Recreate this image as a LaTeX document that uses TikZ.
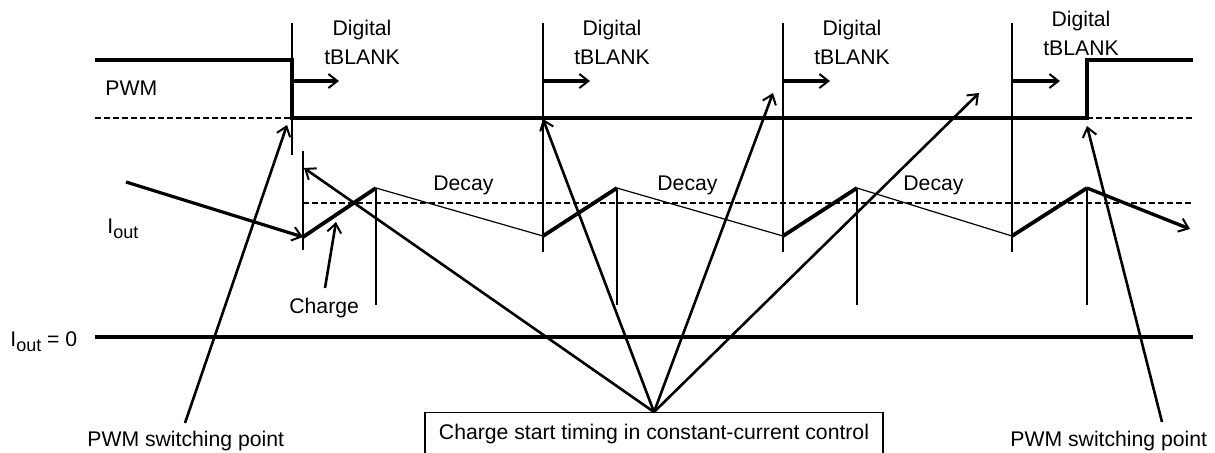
\documentclass[tikz,border=0pt]{standalone}
\usepackage{fontspec}
\setmainfont{Liberation Sans}
\usetikzlibrary{arrows.meta}
\def\Iout{I\raisebox{-2.5pt}{\fontsize{9}{9}\selectfont out}}
\tikzset{
	wave/.style={line width=1.7pt},
	edge/.style={line width=1.4pt},
	hair/.style={line width=0.6pt},
	level/.style={line width=0.7pt, dash pattern=on 2.8pt off 1.7pt},
	blankarrow/.style={line width=1.8pt, -{Straight Barb[length=4.5pt,width=7pt,line width=1pt]}},
	pointer/.style={line width=1.3pt, -{Straight Barb[length=4.5pt,width=7pt,line width=1pt]}},
	lbl/.style={inner sep=0pt, anchor=base west},
}

\begin{document}
\begin{tikzpicture}[x=0.5pt,y=-0.5pt,font=\fontsize{10.6}{14.5}\selectfont]
				\useasboundingbox (0,0) rectangle (1215,452);
				
				\coordinate (s1) at (303,237);
				\coordinate (p1) at (376,188);
				\coordinate (s2) at (543,236);
				\coordinate (p2) at (617,188);
				\coordinate (s3) at (783,236);
				\coordinate (p3) at (857,188);
				\coordinate (s4) at (1012,236);
				\coordinate (p4) at (1087,188);
				\coordinate (iend) at (1190,229);
				\coordinate (istart) at (126,182);
				
				\draw[wave] (95,60) -- (292,60) -- (292,118) -- (1087,118) -- (1087,60) -- (1193,60);
				\draw[level] (95,118) -- (292,118);
				\draw[level] (1087,118) -- (1193,118);
				\node[lbl] (pwm) at (105,95) {PWM};
				
				\draw[hair] (292,23) -- (292,155);
				\draw[hair] (543,23) -- (543,150);
				\draw[hair] (783,23) -- (783,150);
				\draw[hair] (1012,23) -- (1012,150);
				
				\draw[blankarrow] (292,81) -- (339,81);
				\draw[blankarrow] (543,81) -- (590,81);
				\draw[blankarrow] (783,81) -- (830,81);
				\draw[blankarrow] (1012,81) -- (1060,81);
				
				\node[align=center] (blank1) at (362,42) {Digital\\tBLANK};
				\node[align=center] (blank2) at (612,42) {Digital\\tBLANK};
				\node[align=center] (blank3) at (852,42) {Digital\\tBLANK};
				\node[align=center] (blank4) at (1081,33) {Digital\\tBLANK};
				
				\draw[level] (303,203) -- (1193,203);
				
				\draw[edge] (303,151) -- (303,250);
				\draw[edge] (543,150) -- (543,252);
				\draw[edge] (783,150) -- (783,252);
				\draw[edge] (1012,150) -- (1012,252);
				\draw[edge] (p1) -- (376,305);
				\draw[edge] (p2) -- (617,305);
				\draw[edge] (p3) -- (857,305);
				\draw[edge] (p4) -- (1087,305);
				
				\draw[wave,line width=1.9pt] (s1) -- (p1);
				\draw[hair] (p1) -- (s2);
				\draw[wave,line width=1.9pt] (s2) -- (p2);
				\draw[hair] (p2) -- (s3);
				\draw[wave,line width=1.9pt] (s3) -- (p3);
				\draw[hair] (p3) -- (s4);
				\draw[wave,line width=1.9pt] (s4) -- (p4);
				\draw[pointer,line width=1.7pt] (p4) -- (iend);
				\draw[pointer,line width=1.6pt] (istart) -- (s1);
				
				\node[lbl] (decay1) at (433,190) {Decay};
				\node[lbl] (decay2) at (657,190) {Decay};
				\node[lbl] (decay3) at (903,190) {Decay};
				\node[lbl] (iout) at (107,233) {\Iout};
				
				\node[lbl] (charge) at (289,313) {Charge};
				\coordinate (chargefoot) at (325,288);
				\coordinate (chargetip) at (336,222);
				\draw[pointer] (chargefoot) -- (chargetip);
				
				\draw[wave] (95,337) -- (1193,337);
				\node[lbl] (zero) at (10,346) {\Iout{} = 0};
				
				\node[lbl] (swL) at (87,446) {PWM switching point};
				\node[lbl] (swR) at (1010,446) {PWM switching point};
				\coordinate (swLfoot) at (185,423);
				\coordinate (swLtip) at (287,125);
				\coordinate (swRfoot) at (1162,422);
				\coordinate (swRtip) at (1087,126);
				\draw[pointer] (swLfoot) -- (swLtip);
				\draw[pointer] (swRfoot) -- (swRtip);
				
				\node[draw, hair, anchor=north, minimum width=229pt, inner ysep=6pt] (timing) at (654,412) {Charge start timing in constant-current control};
				\coordinate (t1) at (304,168);
				\coordinate (t2) at (543,119);
				\coordinate (t3) at (773,93);
				\coordinate (t4) at (979,93);
				\draw[pointer] (timing.north) -- (t1);
				\draw[pointer] (timing.north) -- (t2);
				\draw[pointer] (timing.north) -- (t3);
				\draw[pointer] (timing.north) -- (t4);
			\end{tikzpicture}
\end{document}
